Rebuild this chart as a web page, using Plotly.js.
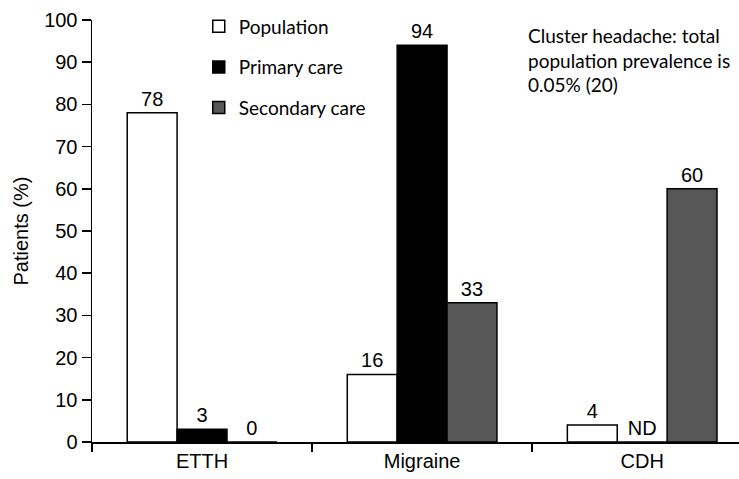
<!DOCTYPE html>
<html>
<head>
<meta charset="utf-8">
<script src="https://cdn.plot.ly/plotly-3.0.1.min.js"></script>
<style>html,body{margin:0;padding:0;background:#fff;}#chart{width:739px;height:479px;}</style>
</head>
<body>
<div id="chart"></div>
<script>
const categories = ["ETTH", "Migraine", "CDH"];
const populationValues = [78, 16, 4];
const primaryCareValues = [3, 94, 0];
const primaryCareLabels = ["3", "94", "ND"];
const secondaryCareValues = [0, 33, 60];
const yTickValues = [0, 10, 20, 30, 40, 50, 60, 70, 80, 90, 100];
const noteText = "Cluster headache: total<br>population prevalence is<br>0.05% (20)";

const labelFont = {family: "Liberation Sans, Arial, sans-serif", size: 20, color: "#000"};
const legendFont = {family: "Lato, sans-serif", size: 19, color: "#000"};

const traces = [
  {type: "bar", name: "Population", x: categories, y: populationValues,
   text: populationValues.map(String), textposition: "outside", cliponaxis: false,
   textfont: labelFont, marker: {color: "#ffffff", line: {color: "#000", width: 1.5}},
   legendgroup: "a"},
  {type: "bar", name: "Primary care", x: categories, y: primaryCareValues,
   text: primaryCareLabels, textposition: "outside", cliponaxis: false,
   textfont: labelFont, marker: {color: "#000000", line: {color: "#000", width: 1.5}},
   legendgroup: "b"},
  {type: "bar", name: "Secondary care", x: categories, y: secondaryCareValues,
   text: secondaryCareValues.map(String), textposition: "outside", cliponaxis: false,
   textfont: labelFont, marker: {color: "#575757", line: {color: "#000", width: 1.5}},
   legendgroup: "c"}
];

const layout = {
  width: 739, height: 479,
  margin: {l: 92, r: 0, t: 20, b: 37},
  paper_bgcolor: "#fff", plot_bgcolor: "#fff",
  barmode: "group", bargap: 0.32, bargroupgap: 0,
  showlegend: true,
  legend: {x: 0.165, y: 1.03, xanchor: "left", yanchor: "top", font: legendFont,
           traceorder: "grouped", tracegroupgap: 13, bgcolor: "rgba(0,0,0,0)"},
  xaxis: {type: "category", range: [-0.5, 2.44], tickson: "boundaries",
          showline: true, linecolor: "#000", linewidth: 1.5,
          ticks: "outside", ticklen: 8, tickcolor: "#000", tickwidth: 1.5,
          tickfont: labelFont, showgrid: false, zeroline: false, fixedrange: true},
  yaxis: {range: [0, 100], tickvals: yTickValues, ticktext: yTickValues.map(String),
          showline: true, linecolor: "#000", linewidth: 1.5,
          ticks: "outside", ticklen: 9, tickcolor: "#000", tickwidth: 1.5,
          tickfont: labelFont, showgrid: false, zeroline: false,
          title: {text: "Patients (%)", font: labelFont, standoff: 10}},
  annotations: [
    {xref: "paper", yref: "paper", x: (526 - 92) / 647, y: (442 - 22) / 422, xanchor: "left", yanchor: "top",
     align: "left", showarrow: false, text: noteText,
     font: {family: "Lato, sans-serif", size: 19, color: "#000"}}
  ]
};

Plotly.newPlot("chart", traces, layout, {displayModeBar: false, staticPlot: true});
</script>
</body>
</html>
